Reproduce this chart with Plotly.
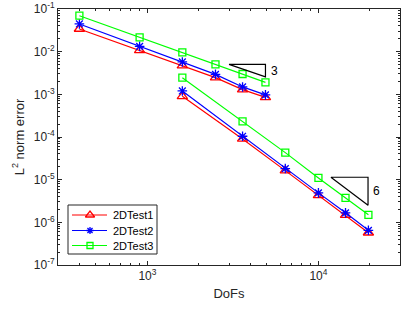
import math
import plotly.graph_objects as go

dofs_a = [400, 900, 1600, 2500, 3600, 4900]
dofs_b = [1600, 3600, 6400, 10000, 14400, 19600]

test1_a = [0.034, 0.0107, 0.0047, 0.00246, 0.00129, 0.00085]
test1_b = [9.0e-4, 9.0e-5, 1.63e-5, 4.3e-6, 1.47e-6, 5.7e-7]
test2_a = [0.0446, 0.0133, 0.00574, 0.00294, 0.00149, 0.00097]
test2_b = [1.2e-3, 1.04e-4, 1.82e-5, 4.9e-6, 1.67e-6, 6.5e-7]
test3_a = [0.0697, 0.0217, 0.0096, 0.00505, 0.0030, 0.00191]
test3_b = [2.46e-3, 2.33e-4, 4.3e-5, 1.1e-5, 3.75e-6, 1.5e-6]

names = ["2DTest1", "2DTest2", "2DTest3"]
colors = ["#ff0000", "#0000ff", "#00ff00"]
symbols = ["triangle-up-open", "asterisk-open", "square-open"]
sizes = [9, 8, 7]
legend_sizes = [8, 6, 6]

x_exponents = [3, 4]
y_exponents = [-7, -6, -5, -4, -3, -2, -1]

tri1_x = [3000, 4900, 4900, 3000]
tri1_y = [5.05e-3, 5.05e-3, 2.56e-3, 5.05e-3]
tri2_x = [11830, 19500, 19500, 11830]
tri2_y = [1.14e-5, 1.14e-5, 2.5e-6, 1.14e-5]
slope_labels = ["3", "6"]
slope_label_x = [5500, 21800]
slope_label_y = [3.45e-3, 5.3e-6]

# plot-area geometry in pixels (for placing the legend box)
W, H = 413, 309
ML, MR, MT, MB = 58, 13, 9, 44
PW, PH = W - ML - MR, H - MT - MB

def px_x(px):
    return (px - ML) / PW

def px_y(py):
    return (H - MB - py) / PH

fig = go.Figure()
series = [(test1_a, test1_b), (test2_a, test2_b), (test3_a, test3_b)]
for i, (ya, yb) in enumerate(series):
    for j, (xs, ys) in enumerate([(dofs_a, ya), (dofs_b, yb)]):
        fig.add_trace(go.Scatter(
            x=xs, y=ys, mode="lines+markers", name=names[i],
            showlegend=False,
            line=dict(color=colors[i], width=1.2),
            marker=dict(symbol=symbols[i], size=sizes[i], color=colors[i],
                        line=dict(color=colors[i], width=1.3)),
        ))

for tx, ty in [(tri1_x, tri1_y), (tri2_x, tri2_y)]:
    fig.add_trace(go.Scatter(x=tx, y=ty, mode="lines", showlegend=False,
                             line=dict(color="black", width=1.2), hoverinfo="skip"))

for lbl, lx, ly in zip(slope_labels, slope_label_x, slope_label_y):
    fig.add_annotation(x=math.log10(lx), y=math.log10(ly), xref="x", yref="y",
                       text=lbl, showarrow=False,
                       font=dict(size=12, color="black"))

# legend box (drawn manually, matching MATLAB legend layout)
fig.add_shape(type="rect", xref="paper", yref="paper",
              x0=px_x(68), x1=px_x(157), y0=px_y(254), y1=px_y(205),
              line=dict(color="#262626", width=1), fillcolor="white", layer="below")
row_y = [215, 230.5, 245.5]
for i in range(3):
    yy = px_y(row_y[i])
    fig.add_trace(go.Scatter(
        x=[px_x(72), px_x(90), px_x(107)], y=[yy, yy, yy], xaxis="x2", yaxis="y2",
        mode="lines", showlegend=False, hoverinfo="skip",
        line=dict(color=colors[i], width=1.2)))
    fig.add_trace(go.Scatter(
        x=[px_x(90)], y=[yy], xaxis="x2", yaxis="y2",
        mode="markers", showlegend=False, hoverinfo="skip",
        marker=dict(symbol=symbols[i], size=legend_sizes[i], color=colors[i],
                    line=dict(color=colors[i], width=1.3))))
    fig.add_annotation(x=px_x(111), y=yy, xref="paper", yref="paper",
                       text=names[i], showarrow=False, xanchor="left", yanchor="middle",
                       font=dict(size=11, color="black"))

def minor_vals(lo, hi):
    vals = []
    for e in range(lo, hi + 1):
        for m in range(2, 10):
            vals.append(m * 10.0 ** e)
    return vals

def pow_labels(exps):
    return ["10<sup>%d</sup>" % e for e in exps]

axis_common = dict(
    type="log", showgrid=False, zeroline=False, showline=True,
    linecolor="#262626", linewidth=1, mirror="ticks",
    ticks="inside", ticklen=4, tickcolor="#262626",
    automargin=False, tickmode="array",
    tickfont=dict(size=12, color="#262626", family="Liberation Sans, Arial"),
)

fig.update_layout(
    width=W, height=H,
    margin=dict(l=ML, r=MR, t=MT, b=MB),
    paper_bgcolor="white", plot_bgcolor="white",
    font=dict(family="Liberation Sans, Arial", size=12, color="#262626"),
    xaxis=dict(**axis_common, range=[2.477, 4.477],
               tickvals=[10.0 ** e for e in x_exponents],
               ticktext=pow_labels(x_exponents),
               minor=dict(ticks="inside", ticklen=2, tickcolor="#262626",
                          showgrid=False, tickmode="array",
                          tickvals=minor_vals(2, 4)),
               title=dict(text="DoFs", font=dict(size=13), standoff=6)),
    yaxis=dict(**axis_common, range=[-7, -1],
               tickvals=[10.0 ** e for e in y_exponents],
               ticktext=pow_labels(y_exponents),
               minor=dict(ticks="inside", ticklen=2, tickcolor="#262626",
                          showgrid=False, tickmode="array",
                          tickvals=minor_vals(-7, -2)),
               title=dict(text="L<sup>2</sup> norm error", font=dict(size=13), standoff=6)),
    xaxis2=dict(overlaying="x", range=[0, 1], visible=False, anchor="y2"),
    yaxis2=dict(overlaying="y", range=[0, 1], visible=False, anchor="x2"),
    showlegend=False,
)

fig.write_html("out.html", config={"displayModeBar": False},
               post_script="document.body.style.margin='0';")
